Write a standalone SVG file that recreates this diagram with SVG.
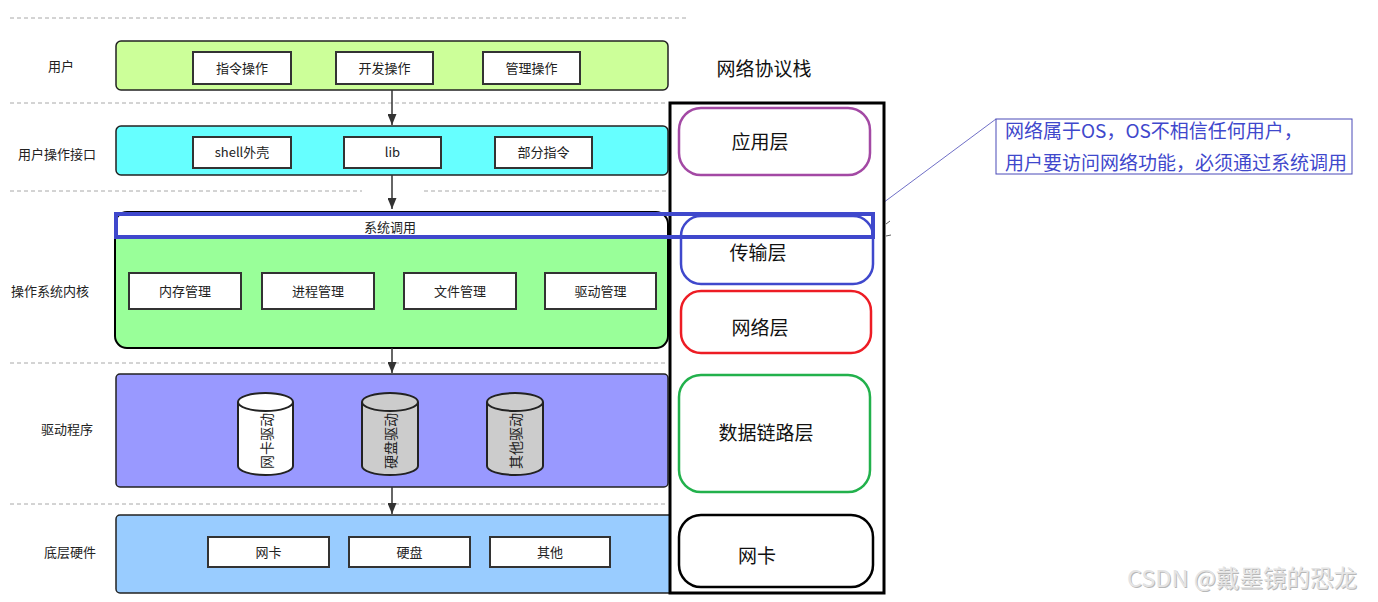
<svg xmlns="http://www.w3.org/2000/svg" width="1378" height="602" viewBox="0 0 1378 602">
<defs>
<style>
text{font-family:"Noto Sans CJK SC","Liberation Sans",sans-serif;dominant-baseline:central;text-anchor:middle;}
.lbl{font-size:13px;fill:#222;}
.big{font-size:19px;fill:#111;}
.dash{stroke:#a8a8a8;stroke-width:1;stroke-dasharray:4 3;fill:none;}
.bar{stroke:#222;stroke-width:1.5;}
.ibox{fill:#fff;stroke:#333;stroke-width:2;}
.cyl{stroke:#222;stroke-width:2;}
.layer{fill:none;stroke-width:2.5;}
.arr{stroke:#333;stroke-width:1.5;fill:none;marker-end:url(#ah);}
</style>
<marker id="ah" viewBox="0 0 10 10" refX="10" refY="5" markerWidth="11" markerHeight="9" markerUnits="userSpaceOnUse" orient="auto" preserveAspectRatio="none">
<path d="M0,0 L10,5 L0,10 Z" fill="#333"/>
</marker>
</defs>
<rect width="1378" height="602" fill="#fff"/>

<g id="guides">
<line class="dash" x1="10" y1="18" x2="688" y2="18"/>
<line class="dash" x1="10" y1="103" x2="668" y2="103"/>
<line class="dash" x1="10" y1="191" x2="362" y2="191"/>
<line class="dash" x1="424" y1="191" x2="668" y2="191"/>
<line class="dash" x1="10" y1="363" x2="668" y2="363"/>
<line class="dash" x1="10" y1="504" x2="668" y2="504"/>
</g>

<g id="row-labels">
<text class="lbl" x="61" y="65">用户</text>
<text class="lbl" x="57" y="153">用户操作接口</text>
<text class="lbl" x="50" y="290">操作系统内核</text>
<text class="lbl" x="67" y="428">驱动程序</text>
<text class="lbl" x="70" y="551">底层硬件</text>
</g>

<g id="user-layer">
<rect class="bar" x="116" y="41" width="552" height="49" rx="5" fill="#ccff99"/>
<rect class="ibox" x="193" y="52" width="98" height="32"/>
<text class="lbl" x="242" y="67">指令操作</text>
<rect class="ibox" x="336" y="52" width="97" height="32"/>
<text class="lbl" x="384.5" y="67">开发操作</text>
<rect class="ibox" x="483" y="52" width="97" height="32"/>
<text class="lbl" x="531.5" y="67">管理操作</text>
</g>

<g id="interface-layer">
<rect class="bar" x="116" y="126" width="552" height="49" rx="5" fill="#66ffff"/>
<rect class="ibox" x="193" y="137" width="98" height="31"/>
<text class="lbl" x="242" y="151.5">shell外壳</text>
<rect class="ibox" x="344" y="137" width="97" height="31"/>
<text class="lbl" x="392.5" y="151.5">lib</text>
<rect class="ibox" x="495" y="137" width="97" height="31"/>
<text class="lbl" x="543.5" y="151.5">部分指令</text>
</g>

<g id="kernel-layer">
<path d="M115,238 V224 Q115,212 127,212 H656 Q668,212 668,224 V238 Z" fill="#fff"/>
<path d="M115,238 H668 V336 Q668,348 656,348 H127 Q115,348 115,336 Z" fill="#99ff99"/>
<rect x="115" y="212" width="553" height="136" rx="12" fill="none" stroke="#000" stroke-width="2"/>
<text class="lbl" x="390" y="226">系统调用</text>
<rect class="ibox" x="129" y="273" width="112" height="36"/>
<text class="lbl" x="185" y="290">内存管理</text>
<rect class="ibox" x="262" y="273" width="112" height="36"/>
<text class="lbl" x="318" y="290">进程管理</text>
<rect class="ibox" x="404" y="273" width="112" height="36"/>
<text class="lbl" x="460" y="290">文件管理</text>
<rect class="ibox" x="545" y="273" width="111" height="36"/>
<text class="lbl" x="600.5" y="290">驱动管理</text>
</g>

<g id="driver-layer">
<rect class="bar" x="116" y="374" width="552" height="113" rx="4" fill="#9999ff"/>
<path class="cyl" d="M238,402 A27.5,9 0 0 1 293,402 V466 A27.5,9 0 0 1 238,466 Z" fill="#fff"/>
<path class="cyl" d="M238,402 A27.5,9 0 0 0 293,402" fill="none"/>
<text class="lbl" style="font-size:14px" transform="translate(265.5,441) rotate(-90)">网卡驱动</text>
<path class="cyl" d="M362,402 A28,9 0 0 1 418,402 V466 A28,9 0 0 1 362,466 Z" fill="#cccccc"/>
<path class="cyl" d="M362,402 A28,9 0 0 0 418,402" fill="none"/>
<text class="lbl" style="font-size:14px" transform="translate(390,441) rotate(-90)">硬盘驱动</text>
<path class="cyl" d="M487,402 A28,9 0 0 1 543,402 V466 A28,9 0 0 1 487,466 Z" fill="#cccccc"/>
<path class="cyl" d="M487,402 A28,9 0 0 0 543,402" fill="none"/>
<text class="lbl" style="font-size:14px" transform="translate(515,441) rotate(-90)">其他驱动</text>
</g>

<g id="hardware-layer">
<rect class="bar" x="116" y="515" width="560" height="78" rx="4" fill="#99ccff"/>
<rect class="ibox" x="208" y="537" width="121" height="30"/>
<text class="lbl" x="268.5" y="551">网卡</text>
<rect class="ibox" x="349" y="537" width="121" height="30"/>
<text class="lbl" x="409.5" y="551">硬盘</text>
<rect class="ibox" x="490" y="537" width="120" height="30"/>
<text class="lbl" x="550" y="551">其他</text>
</g>

<g id="connectors">
<line class="arr" x1="392" y1="90" x2="392" y2="125"/>
<line class="arr" x1="392" y1="175" x2="392" y2="209"/>
<line class="arr" x1="392" y1="348" x2="392" y2="373"/>
<line class="arr" x1="392" y1="487" x2="392" y2="514"/>
<line x1="996" y1="119" x2="860" y2="220" stroke="#4a4ab8" stroke-width="0.8"/>
</g>

<g id="protocol-stack">
<text class="big" x="764" y="67">网络协议栈</text>
<rect x="670" y="103" width="214" height="490" fill="#fff" stroke="#000" stroke-width="3"/>
<g id="app-layer">
<rect class="layer" x="679" y="108" width="191" height="67" rx="22" stroke="#a349a4"/>
<text class="big" x="760" y="140">应用层</text>
</g>
<g id="transport-layer">
<rect class="layer" x="681" y="216" width="192" height="68" rx="20" stroke="#3f48cc"/>
<text class="big" x="758" y="251">传输层</text>
</g>
<g id="network-layer">
<rect class="layer" x="681" y="291" width="190" height="62" rx="20" stroke="#ed1c24"/>
<text class="big" x="760" y="326">网络层</text>
</g>
<g id="link-layer">
<rect class="layer" x="679" y="375" width="191" height="117" rx="22" stroke="#22b14c"/>
<text class="big" x="766" y="431">数据链路层</text>
</g>
<g id="nic-layer">
<rect class="layer" x="679" y="515" width="194" height="72" rx="22" stroke="#000"/>
<text class="big" x="757" y="554">网卡</text>
</g>
</g>

<g id="syscall-highlight">
<rect x="116" y="214" width="757" height="23" fill="none" stroke="#3f48cc" stroke-width="4"/>
<path d="M886,224 l4,-3 M886,236 l5,-1" stroke="#333" stroke-width="0.8" fill="none"/>
</g>

<g id="note">
<rect x="996" y="119" width="356" height="55" fill="#fff" stroke="#4a4ab8" stroke-width="1"/>
<text x="1005" y="129" style="font-size:19px;fill:#3f48cc;text-anchor:start">网络属于OS，OS不相信任何用户，</text>
<text x="1005" y="161" style="font-size:19px;fill:#3f48cc;text-anchor:start">用户要访问网络功能，必须通过系统调用</text>
</g>

<g id="watermark">
<text x="1243" y="578" style="font-size:23.5px;fill:#b8b8b8;">CSDN @戴墨镜的恐龙</text>
<text x="1242" y="577" style="font-size:23.5px;fill:#e4e4e4;">CSDN @戴墨镜的恐龙</text>
</g>
</svg>
